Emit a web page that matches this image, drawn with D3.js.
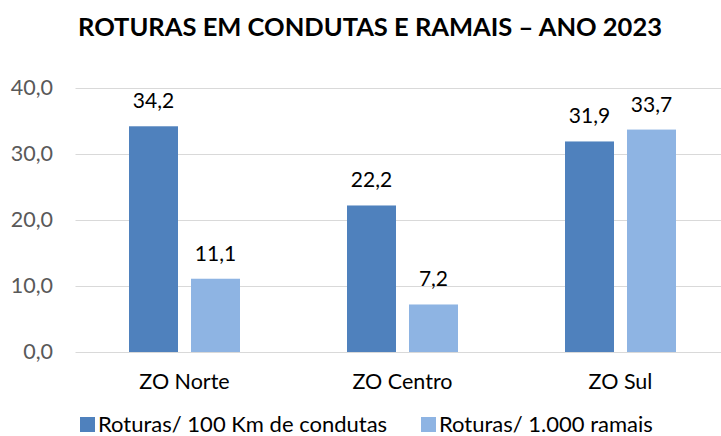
<!DOCTYPE html>
<html>
<head>
<meta charset="utf-8">
<script src="https://cdn.jsdelivr.net/npm/d3@7"></script>
<style>
  body { margin: 0; background: #fff; }
  text { font-family: Lato, "Open Sans", sans-serif; }
  .grid line { stroke: #d9d9d9; stroke-width: 1; }
  .y.axis text { fill: #595959; font-size: 21.5px; }
  .x.axis text { fill: #000; font-size: 21.5px; }
  .title { font-weight: bold; font-size: 25.5px; fill: #000; }
  .val { font-size: 21px; fill: #000; }
  .legend text { font-size: 22px; fill: #000; }
</style>
</head>
<body>
<div id="chart"></div>
<script>
//*********************** DATA ***********************
var zones = ["ZO Norte", "ZO Centro", "ZO Sul"];
var seriesNames = ["Roturas/ 100 Km de condutas", "Roturas/ 1.000 ramais"];
var condutas = [34.2, 22.2, 31.9];
var ramais = [11.1, 7.2, 33.7];
var yTicks = [0, 10, 20, 30, 40];
var colors = ["#4f81bd", "#8eb4e3"];

//*********************** DECLARE VARIABLES ***********************
var width = 721,
    height = 436,
    margin = {top: 88, bottom: 84, left: 75.5, right: -8.5},
    groupW = 111,
    fmt = function(v) { return d3.format(".1f")(v).replace(".", ","); };

var rows = zones.map(function(z, i) {
  return {zone: z, values: [condutas[i], ramais[i]]};
});

var xScale = d3.scaleBand().domain(zones)
      .range([margin.left, width - margin.right]),
    xInner = d3.scaleBand().domain([0, 1])
      .range([0, groupW]).paddingInner(13 / 62),
    yScale = d3.scaleLinear().domain([0, 40])
      .range([height - margin.bottom, margin.top]);

var svg = d3.select("#chart").append("svg")
    .attr("width", width)
    .attr("height", height);

//title
svg.append("text")
    .attr("class", "title")
    .attr("x", 370)
    .attr("y", 36)
    .attr("text-anchor", "middle")
    .text("ROTURAS EM CONDUTAS E RAMAIS \u2013 ANO 2023");

//gridlines
svg.append("g").attr("class", "grid")
  .selectAll("line").data(yTicks).enter().append("line")
    .attr("x1", margin.left)
    .attr("x2", width)
    .attr("y1", function(d) { return Math.round(yScale(d)) + 0.5; })
    .attr("y2", function(d) { return Math.round(yScale(d)) + 0.5; });

//y axis labels
var yAxis = d3.axisLeft(yScale).tickValues(yTicks).tickFormat(fmt).tickSize(0).tickPadding(0);
svg.append("g")
    .attr("class", "y axis")
    .attr("transform", "translate(53,0)")
    .call(yAxis)
    .call(function(g) { g.select(".domain").remove(); });

//x axis labels
var xAxis = d3.axisBottom(xScale).tickSize(0).tickPadding(0);
svg.append("g")
    .attr("class", "x axis")
    .attr("transform", "translate(0,374)")
    .call(xAxis)
    .call(function(g) { g.select(".domain").remove(); });

//bars
var groups = svg.selectAll(".group").data(rows).enter().append("g")
    .attr("class", "group")
    .attr("transform", function(d) {
      return "translate(" + (xScale(d.zone) + xScale.bandwidth() / 2 - groupW / 2) + ",0)";
    });

groups.selectAll("rect")
    .data(function(d) { return d.values; })
    .enter().append("rect")
    .attr("x", function(d, i) { return xInner(i); })
    .attr("y", function(d) { return yScale(d); })
    .attr("width", xInner.bandwidth())
    .attr("height", function(d) { return yScale(0) - yScale(d); })
    .attr("fill", function(d, i) { return colors[i]; });

groups.selectAll(".val")
    .data(function(d) { return d.values; })
    .enter().append("text")
    .attr("class", "val")
    .attr("x", function(d, i) { return xInner(i) + xInner.bandwidth() / 2; })
    .attr("y", function(d) { return yScale(d) - 18; })
    .attr("text-anchor", "middle")
    .text(fmt);

//*********************** LEGEND ***********************
var legendX = [80, 421];
var legend = svg.selectAll(".legend").data(seriesNames).enter().append("g")
    .attr("class", "legend")
    .attr("transform", function(d, i) { return "translate(" + legendX[i] + ",417)"; });

legend.append("rect")
    .attr("width", 15)
    .attr("height", 15)
    .attr("fill", function(d, i) { return colors[i]; });

legend.append("text")
    .attr("x", 18)
    .attr("y", 15)
    .text(function(d) { return d; });
</script>
</body>
</html>
